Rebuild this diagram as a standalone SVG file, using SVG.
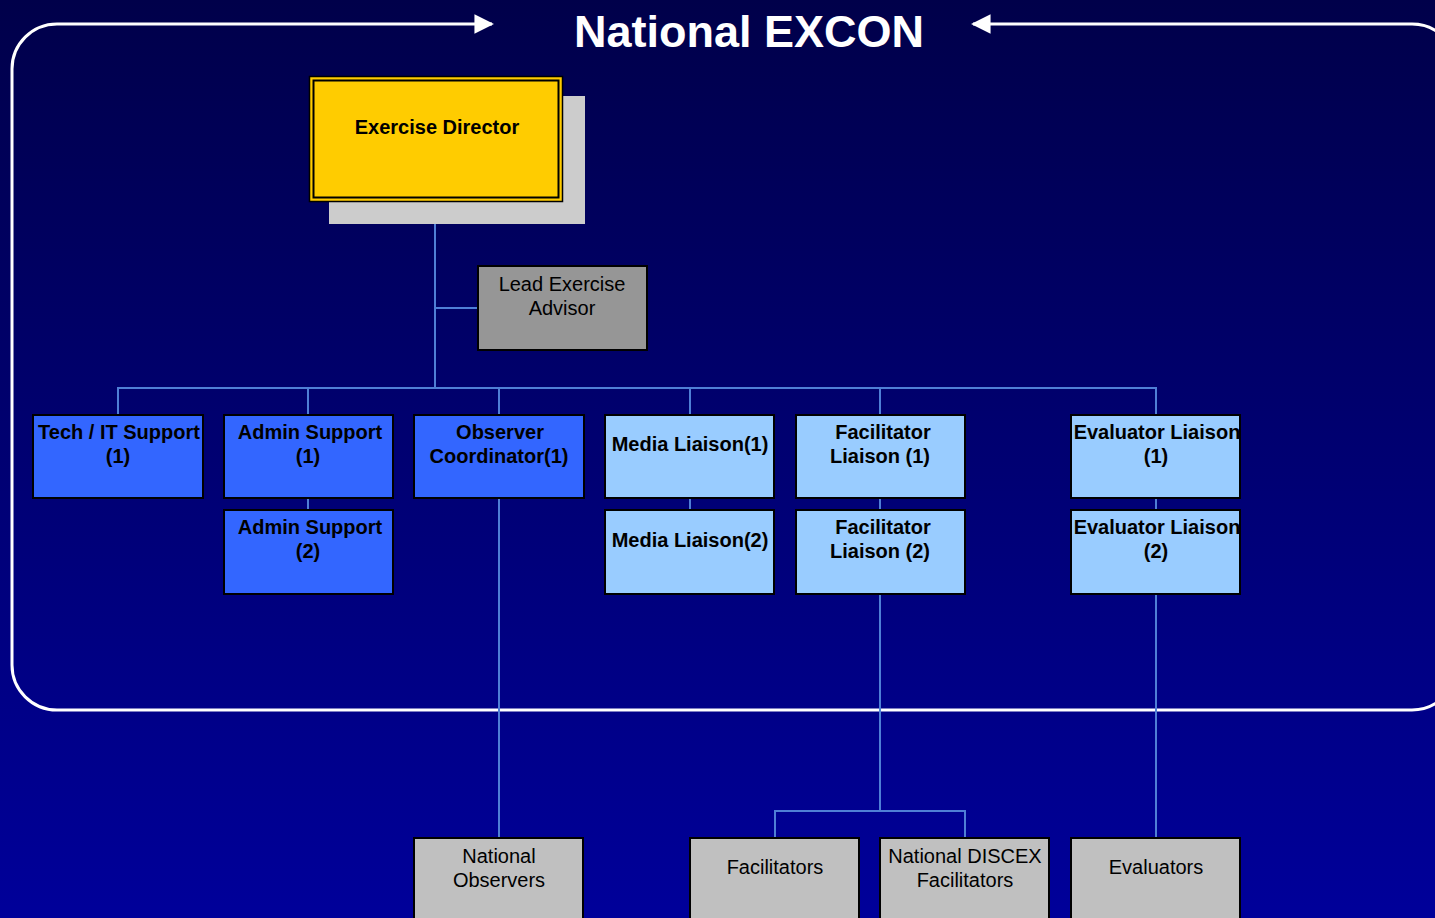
<svg xmlns="http://www.w3.org/2000/svg" width="1435" height="918" viewBox="0 0 1435 918">
<defs>
<linearGradient id="bg" x1="0" y1="0" x2="0" y2="1">
<stop offset="0" stop-color="#00004A"/>
<stop offset="1" stop-color="#00009A"/>
</linearGradient>
<marker id="arr" viewBox="0 0 10 10" refX="9" refY="5" markerWidth="6.5" markerHeight="6.5" markerUnits="strokeWidth" orient="auto-start-reverse">
<path d="M0,0 L10,5 L0,10 z" fill="#FFFFFF"/>
</marker>
<style>
.lbl{font-family:"Liberation Sans",Arial,sans-serif;font-size:20px;fill:#000;text-anchor:middle}
.b{font-weight:bold}
.dk{fill:#3366FF;stroke:#000;stroke-width:2}
.lt{fill:#99CCFF;stroke:#000;stroke-width:2}
.gr{fill:#C0C0C0;stroke:#000;stroke-width:2}
.con{fill:none;stroke:#4F7FD6;stroke-width:2}
</style>
</defs>
<rect x="0" y="0" width="1435" height="918" fill="url(#bg)"/>

<path d="M973,24 H1412 A45,45 0 0 1 1457,69 V665 A45,45 0 0 1 1412,710 H57 A45,45 0 0 1 12,665 V69 A45,45 0 0 1 57,24 H492" fill="none" stroke="#FFFFFF" stroke-width="3" marker-start="url(#arr)" marker-end="url(#arr)"/>
<text x="749" y="47" font-family="'Liberation Sans',Arial,sans-serif" font-size="45" font-weight="bold" fill="#FFFFFF" text-anchor="middle">National EXCON</text>

<g id="connectors">
<path class="con" d="M435,202 V388" stroke-width="2.5"/>
<path class="con" d="M435,308 H478"/>
<path class="con" d="M118,415 V388 H1156 V415"/>
<path class="con" d="M308,388 V415 M499,388 V415 M690,388 V415 M880,388 V415"/>
<path class="con" d="M308,498 V510 M690,498 V510 M880,498 V510 M1156,498 V510"/>
<path class="con" d="M499,498 V838"/>
<path class="con" d="M880,594 V811 M775,838 V811 H965 V838"/>
<path class="con" d="M1156,594 V838"/>
</g>

<g id="exercise-director">
<rect x="329" y="96" width="256" height="128" fill="#CCCCCC"/>
<rect x="309.5" y="76.5" width="253" height="125" fill="#FFCC00" stroke="#000" stroke-width="1.5"/>
<rect x="313.5" y="80.5" width="245" height="117" fill="none" stroke="#000" stroke-width="2"/>
<text class="lbl b" x="437" y="134">Exercise Director</text>
</g>

<g id="lead-exercise-advisor">
<rect x="478" y="266" width="169" height="84" fill="#969696" stroke="#000" stroke-width="2"/>
<text class="lbl" x="562" y="291">Lead Exercise</text>
<text class="lbl" x="562" y="315">Advisor</text>
</g>

<g id="tech-it-support">
<rect class="dk" x="33" y="415" width="170" height="83"/>
<text class="lbl b" x="119" y="439">Tech / IT Support</text>
<text class="lbl b" x="118" y="463">(1)</text>
</g>

<g id="admin-support-1">
<rect class="dk" x="224" y="415" width="169" height="83"/>
<text class="lbl b" x="310" y="439">Admin Support</text>
<text class="lbl b" x="308" y="463">(1)</text>
</g>

<g id="admin-support-2">
<rect class="dk" x="224" y="510" width="169" height="84"/>
<text class="lbl b" x="310" y="534">Admin Support</text>
<text class="lbl b" x="308" y="558">(2)</text>
</g>

<g id="observer-coordinator">
<rect class="dk" x="414" y="415" width="170" height="83"/>
<text class="lbl b" x="500" y="439">Observer</text>
<text class="lbl b" x="499" y="463">Coordinator(1)</text>
</g>

<g id="media-liaison-1">
<rect class="lt" x="605" y="415" width="169" height="83"/>
<text class="lbl b" x="690" y="451">Media Liaison(1)</text>
</g>

<g id="media-liaison-2">
<rect class="lt" x="605" y="510" width="169" height="84"/>
<text class="lbl b" x="690" y="547">Media Liaison(2)</text>
</g>

<g id="facilitator-liaison-1">
<rect class="lt" x="796" y="415" width="169" height="83"/>
<text class="lbl b" x="883" y="439">Facilitator</text>
<text class="lbl b" x="880" y="463">Liaison (1)</text>
</g>

<g id="facilitator-liaison-2">
<rect class="lt" x="796" y="510" width="169" height="84"/>
<text class="lbl b" x="883" y="534">Facilitator</text>
<text class="lbl b" x="880" y="558">Liaison (2)</text>
</g>

<g id="evaluator-liaison-1">
<rect class="lt" x="1071" y="415" width="169" height="83"/>
<text class="lbl b" x="1157" y="439">Evaluator Liaison</text>
<text class="lbl b" x="1156" y="463">(1)</text>
</g>

<g id="evaluator-liaison-2">
<rect class="lt" x="1071" y="510" width="169" height="84"/>
<text class="lbl b" x="1157" y="534">Evaluator Liaison</text>
<text class="lbl b" x="1156" y="558">(2)</text>
</g>

<g id="national-observers">
<rect class="gr" x="414" y="838" width="169" height="90"/>
<text class="lbl" x="499" y="863">National</text>
<text class="lbl" x="499" y="887">Observers</text>
</g>

<g id="facilitators">
<rect class="gr" x="690" y="838" width="169" height="90"/>
<text class="lbl" x="775" y="874">Facilitators</text>
</g>

<g id="national-discex-facilitators">
<rect class="gr" x="880" y="838" width="169" height="90"/>
<text class="lbl" x="965" y="863">National DISCEX</text>
<text class="lbl" x="965" y="887">Facilitators</text>
</g>

<g id="evaluators">
<rect class="gr" x="1071" y="838" width="169" height="90"/>
<text class="lbl" x="1156" y="874">Evaluators</text>
</g>
</svg>
